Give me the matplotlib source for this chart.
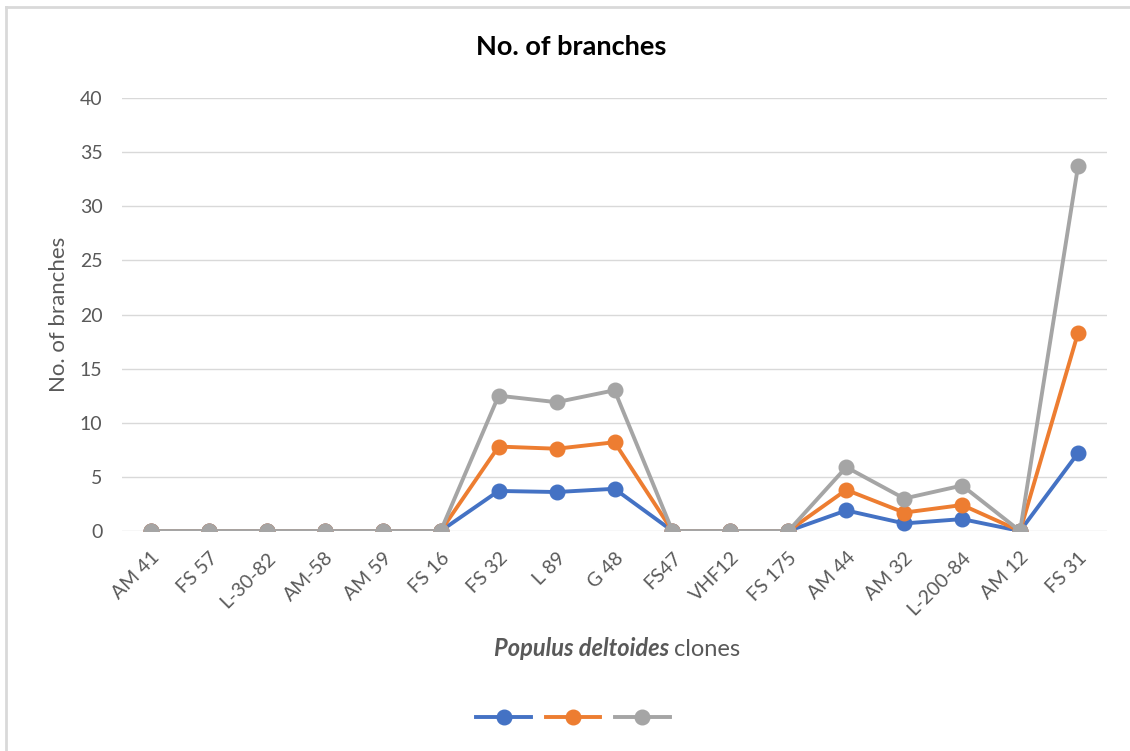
import matplotlib.pyplot as plt
from matplotlib.lines import Line2D

plt.rcParams['font.family'] = ['Lato', 'DejaVu Sans']

# clone names and branch counts
clones = ['AM 41', 'FS 57', 'L-30-82', 'AM-58', 'AM 59', 'FS 16', 'FS 32', 'L 89', 'G 48',
          'FS47', 'VHF12', 'FS 175', 'AM 44', 'AM 32', 'L-200-84', 'AM 12', 'FS 31']
blue_vals = [0, 0, 0, 0, 0, 0, 3.7, 3.6, 3.9, 0, 0, 0, 1.9, 0.7, 1.1, 0, 7.2]
orange_vals = [0, 0, 0, 0, 0, 0, 7.8, 7.6, 8.2, 0, 0, 0, 3.8, 1.7, 2.4, 0, 18.3]
gray_vals = [0, 0, 0, 0, 0, 0, 12.5, 11.9, 13.0, 0, 0, 0, 5.9, 3.0, 4.2, 0, 33.7]
yticks = [0, 5, 10, 15, 20, 25, 30, 35, 40]

colors = ['#4472C4', '#ED7D31', '#A5A5A5']
txt = '#595959'

fig = plt.figure(figsize=(11.3, 7.51), dpi=100)
fig.patch.set_facecolor('white')
ax = fig.add_axes([122 / 1130, 1 - 531 / 751, (1107 - 122) / 1130, (531 - 98) / 751])

x = list(range(len(clones)))
for vals, c in zip([blue_vals, orange_vals, gray_vals], colors):
    ax.plot(x, vals, color=c, lw=2.8, marker='o', markersize=10.5, solid_capstyle='round')

ax.set_xlim(-0.5, len(clones) - 0.5)
ax.set_ylim(0, 40)
ax.set_yticks(yticks)
ax.set_xticks(x)
ax.set_xticklabels(clones, rotation=45, ha='right', rotation_mode='anchor')
ax.tick_params(axis='both', length=0, labelsize=14, labelcolor=txt)
ax.tick_params(axis='y', pad=14)
ax.tick_params(axis='x', pad=13)
for s in ax.spines.values():
    s.set_visible(False)
ax.grid(axis='y', color='#d9d9d9', lw=1)
ax.set_axisbelow(True)
ax.set_facecolor('none')

ax.set_ylabel('No. of branches', fontsize=16, color=txt, labelpad=8)
fig.text(571 / 1130, 1 - 47 / 751, 'No. of branches', ha='center', va='center',
         fontsize=19.5, fontweight='bold', color='black')
fig.text(669 / 1130, 1 - 649 / 751, 'Populus deltoides', ha='right', va='center',
         fontsize=17, style='italic', fontweight='bold', color=txt)
fig.text(674 / 1130, 1 - 649 / 751, 'clones', ha='left', va='center',
         fontsize=17, color=txt)

handles = [Line2D([], [], color=c, lw=2.8, marker='o', markersize=10.5) for c in colors]
fig.legend(handles, ['', '', ''], loc='center', bbox_to_anchor=(573 / 1130, 1 - 718 / 751),
           ncol=3, frameon=False, handlelength=3.9, columnspacing=1.1, handletextpad=0,
           fontsize=10)

# outer chart frame
fig.add_artist(Line2D([6 / 1130, 1], [1 - 7 / 751, 1 - 7 / 751], color='#d9d9d9', lw=2))
fig.add_artist(Line2D([6 / 1130, 6 / 1130], [1 - 7 / 751, 0], color='#d9d9d9', lw=2))

fig.savefig('out.png', dpi=100)
